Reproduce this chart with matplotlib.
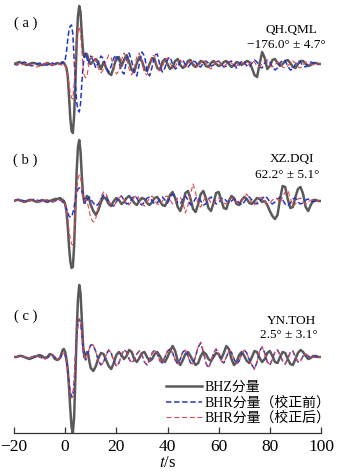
import numpy as np
import matplotlib
matplotlib.use("Agg")
import matplotlib.pyplot as plt

plt.rcParams['font.family'] = ['Liberation Serif', 'Noto Sans CJK SC']
plt.rcParams['mathtext.fontset'] = 'stix'
plt.rcParams['axes.unicode_minus'] = True

# time axis (s): 1 s steps, 0.5 s around the main pulse
t = np.concatenate([np.arange(-20, -2), np.arange(-2, 10.5, 0.5), np.arange(11, 101)])

# (a) QH.QML
bhz_a = [0, 1, 2, 1, 0, -1, 0, 1, 1, 0, -1, -1, 0, 1, 0, -1, 0, 1,
         0, 1, 2, 1, -1, -4, -12, -32, -54, -67, -69, -52, -18, 22, 48, 58, 52, 30, 12, 7, 9, 10, 6, 2, 0,
         3, 5, 1, -5, 2, -4, -9, -11, -3, 6,
         7, -2, 4, 9, 2, -6, -8, 1, 7, 3,
         -5, -7, 0, 6, 4, -4, -6, 2, 5, 0,
         -5, -3, 3, 5, -1, -4, -2, 3, 4, -1,
         -3, 0, 3, 2, -2, -3, 1, 3, 0, -2,
         -1, 2, 3, 0, -3, -1, 2, 1, -1, 1,
         3, 2, -4, -11, -13, 0, 12, 6, -5, -2,
         4, 5, 1, -2, 0, 3, 4, 1, -3, -4,
         0, 3, 3, 0, -2, -1, 1, 1, 0, 0]
bhr_pre_a = [0, -1, 0, 1, 2, 1, -1, -2, -1, 0, 1, 0, -1, -1, 0, 1, 0, -1,
             0, 0, 1, 2, 4, 12, 24, 34, 38, 39, 30, 6, -20, -38, -46, -48, -40, -20, -2, 8, 11, 6, 0, 4, 8,
             3, -4, 2, 8, 5, -3, -8, -2, 6, 9,
             2, -7, -10, 4, 11, 3, -9, -12, 0, 12,
             8, -6, -12, -3, 9, 10, -1, -8, -4, 5,
             7, 0, -5, -3, 3, 4, -1, -3, 0, 3,
             2, -2, -3, 1, 3, 1, -2, -1, 2, 3,
             0, -3, -2, 2, 3, -1, -4, -1, 3, 2,
             -2, -3, 1, 4, 2, -3, -4, 1, 4, 2,
             -3, -6, -4, 1, 4, 3, -2, -6, -5, 0,
             3, 2, -2, -3, 0, 2, 1, -1, 0, 0]
bhr_post_a = [0, 0, -1, -1, 0, 1, 0, -1, -2, -3, -2, -1, 0, 1, 0, -1, 0, 0,
              0, -1, -1, 0, -1, -4, -10, -20, -29, -34, -35, -20, 4, 22, 33, 37, 31, 13, -4, -12, -14, -12, -5, 2, 6,
              8, 3, -4, -9, -5, 3, 9, 6, -3, -10,
              -7, 4, 11, 6, -5, -11, -4, 7, 11, 2,
              -9, -11, -1, 9, 8, -3, -7, -3, 4, 6,
              1, -4, -3, 2, 4, 0, -3, -1, 3, 2,
              -2, -3, 1, 4, 2, -3, -5, -1, 3, 3,
              -1, -3, 0, 3, 1, -2, -2, 1, 2, 0,
              -2, 0, 3, 2, -2, -3, 0, 3, 2, -1,
              -3, -1, 2, 1, -3, -4, -2, 1, 3, 1,
              -3, -4, -1, 2, 2, 0, -1, 0, 0, 0]

# (b) XZ.DQI
bhz_b = [0, 1, 1, 0, -1, 0, 1, 1, 0, -1, 0, 1, 0, -1, 0, 1, 2, 2,
         3, 2, 1, 0, -3, -10, -25, -45, -60, -67, -66, -45, -6, 30, 54, 61, 50, 25, 6, -2, 2, 5, 4, 1, -4,
         -10, -14, -9, -1, 4, 2, -3, -5, 0, 3,
         1, -3, -1, 3, 5, 2, -2, -4, 0, 3,
         2, -2, -4, -1, 3, 4, 0, -4, -5, 0,
         6, 9, 3, -6, -10, -2, 8, 10, 2, -8,
         -11, -3, 7, 10, 3, -7, -10, -2, 8, 9,
         1, -7, -8, 0, 5, 3, -3, -4, 1, 4,
         2, -2, -3, 0, 3, 2, -1, 0, -4, -10,
         -15, -18, -14, 2, 15, 14, 2, -7, -6, 4,
         12, 14, 7, -6, -10, -4, 1, 1, 0, 0]
bhr_pre_b = [0, 1, 2, 1, 0, -1, 0, 1, 2, 1, 0, -1, 0, 1, 0, -1, 0, 1,
             1, 0, -1, -2, -4, -8, -12, -15, -16, -16, -12, -6, 2, 8, 12, 13, 13, 10, 5, 1, -2, 0, 3, 4, 2,
             -2, -5, -3, 2, 6, 5, 0, -4, -5, -1,
             4, 5, 1, -3, -2, 2, 5, 3, -2, -4,
             -1, 3, 4, 0, -3, -2, 2, 4, 1, -2,
             3, 7, 4, -2, -3, 2, 5, 1, -4, -2,
             3, 4, 0, -4, -3, 2, 4, 1, -3, -2,
             2, 3, 0, -2, 0, 2, 1, -2, -4, -1,
             3, 4, 1, -2, -3, 0, 2, 5, 3, -1,
             -3, -1, 2, 4, 1, -3, -5, -2, 2, 3,
             -1, -3, -2, 1, 2, 0, -1, 0, 0, 0]
bhr_post_b = [0, 1, 1, 0, -1, -1, 0, 1, 1, 0, -1, 0, 1, 1, 0, -1, 0, 1,
              1, 0, -1, -1, -3, -9, -18, -30, -38, -43, -44, -34, -10, 12, 22, 26, 24, 15, 5, 0, 2, 0, -5, -11, -17,
              -21, -17, -6, 4, 9, 7, 1, -4, -5, -1,
              3, 5, 2, -3, -4, 0, 4, 6, 2, -3,
              -5, -1, 3, 5, 1, -3, -4, 0, 4, 5,
              1, -3, -2, 3, 4, -1, -12, -4, 7, 17,
              8, -4, -6, 0, 4, 2, -2, -3, 1, 3,
              1, -2, -3, 0, 3, 2, -1, -3, 0, 4,
              7, 3, -2, -4, -1, 3, 4, 0, -3, -2,
              1, 3, 2, -2, 4, 9, 11, 3, -5, -3,
              2, 3, -1, -3, -1, 1, 1, 0, 0, 0]

# (c) YN.TOH
bhz_c = [0, 0, 1, 1, 0, -1, -2, -1, 0, 1, 2, 1, -1, 0, 3, 2, -2, -3,
         -1, 3, 7, 8, 5, -2, -12, -30, -52, -70, -76, -60, -20, 25, 58, 72, 64, 38, 12, 0, 2, 5, 3, -5, -11,
         -14, -9, -1, 4, 3, -3, -9, -12, -6, 2,
         5, 2, -2, 1, 7, 5, -2, -5, -1, 4,
         5, 0, -4, -2, 3, 5, 1, -4, -5, 0,
         6, 11, 6, -4, -8, -3, 3, 5, 1, -4,
         -8, -6, 1, 5, 3, -2, -4, 0, 4, 3,
         -2, 4, 11, 8, -2, -8, -5, 2, 5, 1,
         -4, -6, 0, 6, 5, -1, -5, -2, 4, 6,
         1, -5, -6, 0, 5, 4, -2, -7, -8, -2,
         4, 7, 5, 1, -2, -1, 1, 1, 0, 0]
bhr_pre_c = [0, 0, 1, 1, 0, -1, -1, 0, 1, 1, 0, -1, -2, -1, 1, 2, 0, -2,
             -1, 1, 3, 4, 2, -4, -14, -26, -35, -40, -39, -26, 0, 20, 33, 38, 35, 22, 8, 0, -3, -1, 4, 9, 12,
             12, 5, -4, -8, -5, 2, 7, 4, -4, -9,
             -6, 2, 7, 5, -2, -6, -3, 3, 6, 2,
             -5, -8, -3, 4, 7, 3, -4, -6, 0, 6,
             8, 4, -3, -7, -2, 5, 7, 1, -6, -7,
             1, 10, 14, 5, -6, -11, -5, 4, 8, 3,
             -4, -6, 0, 6, 5, -2, -7, -4, 3, 7,
             4, -3, -8, -12, -5, 6, 10, 4, -5, -8,
             -2, 5, 7, 2, -4, -7, -2, 5, 6, 0,
             -5, -4, 1, 3, 1, -1, 0, 0, 0, 0]
bhr_post_c = [0, 0, 1, 1, 0, -1, -1, 0, 1, 1, 0, -1, -2, -1, 1, 2, 0, -2,
              -1, 1, 3, 4, 2, -4, -15, -27, -36, -41, -40, -27, 0, 20, 33, 38, 35, 22, 8, 0, -3, -1, 4, 9, 12,
              12, 5, -4, -8, -5, 2, 7, 4, -4, -9,
              -6, 2, 7, 5, -2, -6, -3, 3, 6, 2,
              -5, -8, -3, 4, 7, 3, -4, -6, 0, 6,
              8, 4, -3, -7, -2, 5, 7, 1, -6, -7,
              1, 10, 15, 5, -6, -11, -5, 4, 8, 3,
              -4, -6, 0, 6, 5, -2, -7, -4, 3, 7,
              4, -3, -8, -12, -5, 6, 10, 4, -5, -8,
              -2, 5, 7, 2, -4, -7, -2, 5, 6, 0,
              -5, -4, 1, 3, 1, -1, 0, 0, 0, 0]

panels = ['( a )', '( b )', '( c )']
stations = ['QH.QML', 'XZ.DQI', 'YN.TOH']
angles = ['−176.0° ± 4.7°', '62.2° ± 5.1°', '2.5° ± 3.1°']
legend_labels = ['BHZ分量', 'BHR分量（校正前）', 'BHR分量（校正后）']
xticks = [-20, 0, 20, 40, 60, 80, 100]

offsets = [0, -137, -293]
bhz = [bhz_a, bhz_b, bhz_c]
bhr_pre = [bhr_pre_a, bhr_pre_b, bhr_pre_c]
bhr_post = [bhr_post_a, bhr_post_b, bhr_post_c]

fig = plt.figure(figsize=(3.44, 4.71), dpi=100)
ax = fig.add_axes([14/344, 38/471, 307/344, 433/471])

for i in range(3):
    off = offsets[i]
    l1, = ax.plot(t, np.array(bhz[i]) + off, color='#5a5a5a', lw=1.8, zorder=2)
    l2, = ax.plot(t, np.array(bhr_pre[i]) + off, color='#2136c4', lw=1.1,
                  dashes=(3.5, 1.8), zorder=3)
    l3, = ax.plot(t, np.array(bhr_post[i]) + off, color='#e0474c', lw=0.8,
                  dashes=(4.5, 2.5), zorder=4)
    ax.text(-15.6, off + 41, panels[i], fontsize=10.5, ha='center', va='center')

ax.text(88.3, 34, stations[0], fontsize=9.5, ha='center', va='center')
ax.text(86.4, 19.5, angles[0], fontsize=9.5, ha='center', va='center')
ax.text(88.7, -95.3, stations[1], fontsize=9.5, ha='center', va='center')
ax.text(86.7, -111, angles[1], fontsize=9.5, ha='center', va='center')
ax.text(88.3, -256.7, stations[2], fontsize=9.5, ha='center', va='center')
ax.text(87.4, -271, angles[2], fontsize=9.5, ha='center', va='center')

ax.legend([l1, l2, l3], legend_labels, frameon=False, fontsize=10,
          loc='upper left', bbox_to_anchor=(166/344, 1 - 381/471),
          bbox_transform=fig.transFigure, borderpad=0, borderaxespad=0,
          handlelength=2.6, handletextpad=0.15, labelspacing=0.15)

ax.set_xlim(-20, 100)
ax.set_ylim(-369, 64)
for s in ['left', 'top', 'right']:
    ax.spines[s].set_visible(False)
ax.spines['bottom'].set_color('#333333')
ax.spines['bottom'].set_linewidth(0.9)
ax.set_yticks([])
ax.set_xticks(xticks)
ax.set_xticklabels([str(v).replace('-', '−') for v in xticks])
ax.tick_params(axis='x', direction='in', length=4, width=0.9, color='#333333',
               labelsize=12.5, pad=4)
ax.set_xlabel(r'$t$/s', fontsize=12, labelpad=0)

fig.savefig('out.png', dpi=100)
